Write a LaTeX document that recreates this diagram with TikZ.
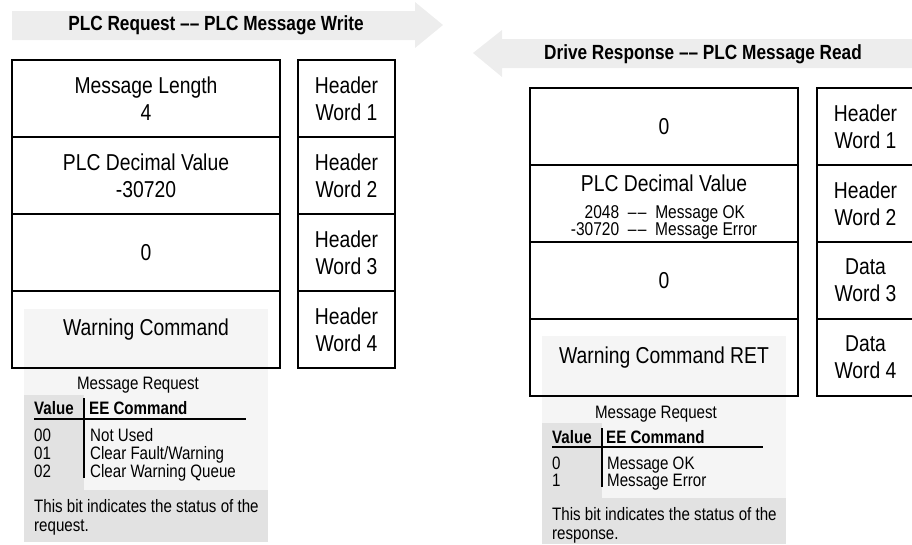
\documentclass[tikz,border=0pt]{standalone}
\usepackage{fontspec}
\setmainfont{Liberation Sans}[FakeStretch=0.84]
\usetikzlibrary{positioning}
\definecolor{banda}{HTML}{EDEDED}
\definecolor{chiaro}{HTML}{F5F5F5}
\definecolor{scuro}{HTML}{E2E2E2}
\tikzset{
  campo/.style={draw, line width=2.4pt, outer sep=0pt, inner sep=0pt,
    minimum width=268pt, minimum height=77pt, align=center,
    font=\fontsize{23}{27}\selectfont},
  parola/.style={campo, minimum width=97pt},
  titolo/.style={font=\bfseries\fontsize{20.5}{24}\selectfont},
  voce/.style={anchor=base west, inner sep=0pt, font=\fontsize{18}{18}\selectfont},
  testa/.style={voce, font=\bfseries\fontsize{18}{18}\selectfont},
  nota/.style={anchor=west, inner sep=0pt, align=left, font=\fontsize{18}{19}\selectfont},
  riga/.style={line width=2pt},
}
\newcommand{\trattini}{–\kern1.5pt–}
\begin{document}
\begin{tikzpicture}[x=1pt, y=-1pt]
\useasboundingbox (0,0) rectangle (912,544);
% frecce
\fill[banda] (12,11) -- (415,11) -- (415,2) -- (443,25) -- (415,48)
  -- (415,40) -- (12,40) -- cycle;
\node[titolo] (trq) at (216,25) {PLC Request –– PLC Message Write};
\fill[banda] (912,39) -- (502,39) -- (502,30) -- (473,53) -- (502,77)
  -- (502,68) -- (912,68) -- cycle;
\node[titolo] (trs) at (703,54) {Drive Response –– PLC Message Read};
% pannelli
\fill[chiaro] (24,309) rectangle (268,490);
\fill[scuro] (24,395) rectangle (84,490);
\fill[scuro] (24,490) rectangle (268,542);
\fill[chiaro] (542,336) rectangle (786,498);
\fill[scuro] (542,423) rectangle (602,498);
\fill[scuro] (542,498) rectangle (786,544);
% richiesta
\node[campo, anchor=north west] (rq1) at (12,60) {Message Length\\4};
\node[campo, below=0pt of rq1] (rq2) {PLC Decimal Value\\-30720};
\node[campo, below=0pt of rq2] (rq3) {0};
\node[campo, below=0pt of rq3] (rq4) {Warning Command};
\node[parola, anchor=north west] (hq1) at (298,60) {Header\\Word 1};
\node[parola, below=0pt of hq1] (hq2) {Header\\Word 2};
\node[parola, below=0pt of hq2] (hq3) {Header\\Word 3};
\node[parola, below=0pt of hq3] (hq4) {Header\\Word 4};
% risposta
\node[campo, anchor=north west] (rs1) at (530,88) {0};
\node[campo, below=0pt of rs1] (rs2) {\rule{0pt}{25pt}PLC Decimal Value\\[9pt]
  {\fontsize{18.5}{16}\selectfont\begin{tabular}{@{}r@{\ \ \trattini\ \ }l@{}}
  2048 & Message OK\\ -30720 & Message Error\end{tabular}}};
\node[campo, below=0pt of rs2] (rs3) {0};
\node[campo, below=0pt of rs3] (rs4) {Warning Command RET};
\node[parola, anchor=north west] (hs1) at (817,88) {Header\\Word 1};
\node[parola, below=0pt of hs1] (hs2) {Header\\Word 2};
\node[parola, below=0pt of hs2] (hs3) {Data\\Word 3};
\node[parola, below=0pt of hs3] (hs4) {Data\\Word 4};
% tabella richiesta
\node[voce, anchor=base] (mrq) at (138,389) {Message Request};
\node[testa] (vrq) at (34,414) {Value};
\node[testa] (crq) at (89,414) {EE Command};
\draw[riga] (34,419) -- (246,419);
\draw[riga] (84,398) -- (84,478);
\node[voce] (v0) at (34,441) {00};
\node[voce] (c0) at (90,441) {Not Used};
\node[voce] (v1) at (34,459) {01};
\node[voce] (c1) at (90,459) {Clear Fault/Warning};
\node[voce] (v2) at (34,477) {02};
\node[voce] (c2) at (90,477) {Clear Warning Queue};
\node[nota] (nrq) at (34,517) {This bit indicates the status of the\\request.};
% tabella risposta
\node[voce, anchor=base] (mrs) at (656,418) {Message Request};
\node[testa] (vrs) at (552,443) {Value};
\node[testa] (crs) at (606,443) {EE Command};
\draw[riga] (552,447) -- (763,447);
\draw[riga] (602,428) -- (602,487);
\node[voce] (w0) at (552,469) {0};
\node[voce] (d0) at (607,469) {Message OK};
\node[voce] (w1) at (552,486) {1};
\node[voce] (d1) at (607,486) {Message Error};
\node[nota] (nrs) at (552,525) {This bit indicates the status of the\\response.};
\end{tikzpicture}
\end{document}
